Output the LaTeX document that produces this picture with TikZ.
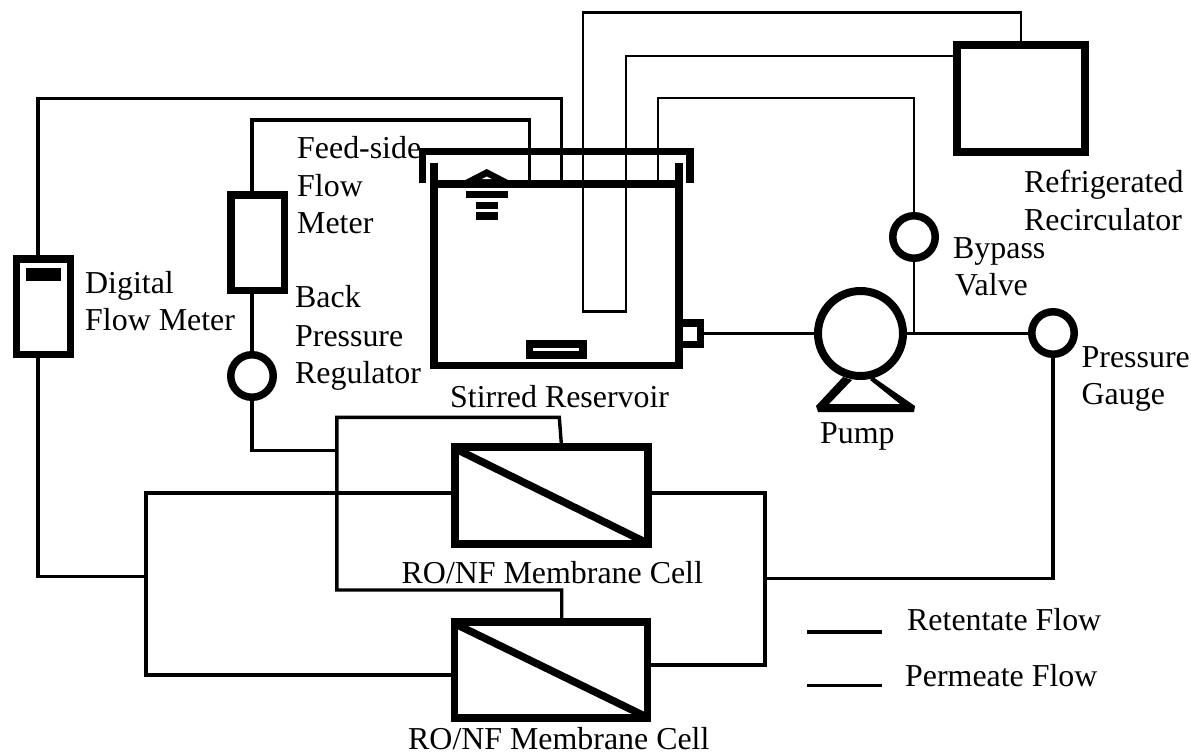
\documentclass[tikz,border=0pt]{standalone}
\usepackage{fontspec}
\usetikzlibrary{calc}
\setmainfont{Liberation Serif}
\begin{document}
\begin{tikzpicture}[x=1bp,y=-1bp,
  box/.style={draw=black,line width=7.5bp,fill=white,inner sep=0pt,outer sep=0pt,minimum width=#1},
  ring/.style={draw=black,line width=7.5bp,fill=white,circle,inner sep=0pt,outer sep=0pt,minimum size=#1},
  pipe/.style={line width=3.4bp,line join=miter},
  fine pipe/.style={line width=2bp,line join=miter},
  solid/.style={fill=black,draw=none},
  lab/.style={font=\fontsize{31.9bp}{37bp}\selectfont,anchor=base west,inner sep=0pt,text=black}]
\useasboundingbox (0,0) rectangle (1191,753);
% tank
\draw[line width=7.6bp,line join=miter] (433.7,162.7) -- (433.7,365.5) -- (679,365.5) -- (679,162.7);
\draw[line width=7.6bp] (430,184) -- (682,184);
\draw[line width=7.2bp,line join=miter] (422.8,183.3) -- (422.8,151.7) -- (690,151.7) -- (690,183.3);
% component nodes
\node[box=53.5bp,minimum height=95.5bp] (fm) at (257.5,242.5) {};
\node[box=53.5bp,minimum height=95.5bp] (dfm) at (43.5,306.5) {};
\node[ring=42.5bp] (bpr) at (252,376) {};
\node[ring=42.5bp] (bv) at (914,237) {};
\node[ring=42.5bp] (pg) at (1053,333) {};
\node[ring=85bp,line width=8bp] (pump) at (860.5,333.5) {};
\node[box=128bp,minimum height=107bp] (rr) at (1021,98.5) {};
\node[box=193bp,minimum height=97bp] (c1) at (551.5,495.5) {};
\node[box=193bp,minimum height=96bp] (c2) at (551,670) {};
\node[draw=black,line width=7.5bp,fill=white,inner sep=0pt,outer sep=0pt,minimum width=21bp,minimum height=21.5bp] (port) at (690,333.7) {};
% junction coordinates
\coordinate (a) at (38,98.5);
\coordinate (b) at (561.4,184);
\coordinate (d) at (252,120);
\coordinate (e) at (529.3,184);
\coordinate (j1) at (336.8,450.5);
\coordinate (j2) at (336.8,417.3);
\coordinate (j3) at (336.8,590);
\coordinate (j4) at (146,576.5);
\coordinate (j7) at (146,493);
\coordinate (j8) at (146,675);
\coordinate (j9) at (765,493);
\coordinate (j10) at (765,665);
\coordinate (j5) at (765,578.5);
\coordinate (j6) at (914,333.5);
\coordinate (m1) at (559.3,417.3);
\coordinate (m2) at (561.3,443.5);
\coordinate (m3) at (561.7,590);
\coordinate (u1) at (583,311.7);
\coordinate (u2) at (625.7,311.7);
\coordinate (u3) at (583,12.7);
\coordinate (u4) at (625.7,55.7);
\coordinate (g) at (1021,12.7);
\coordinate (h) at (914,98.3);
\coordinate (k) at (657.7,184);
% connectors
\draw[pipe] (a |- dfm.north) -- (a) -- (a -| b) -- (b);
\draw[pipe] (a |- dfm.south) -- (a |- j4) -- (j4);
\draw[pipe] (d |- fm.north) -- (d) -- (d -| e) -- (e);
\draw[pipe] (d |- fm.south) -- (bpr.north);
\draw[pipe] (bpr.south) -- (bpr.south |- j1) -- (j1);
\draw[pipe] (m2) -- (m1) -- (j2) -- (j3) -- (m3) -- (m3 |- c2.north);
\draw[pipe] (j7 -| c1.west) -- (j7) -- (j8) -- (j8 -| c2.west);
\draw[pipe] (j9 -| c1.east) -- (j9) -- (j10) -- (j10 -| c2.east);
\draw[pipe] (j5) -- (j5 -| pg.south) -- (pg.south);
\draw[pipe] (port.east |- pump.west) -- (pump.west);
\draw[pipe] (pump.east) -- (pg.west |- pump.east);
\draw[fine pipe] (j6) -- (bv.south);
\draw[fine pipe] (bv.north) -- (h) -- (h -| k) -- (k);
\draw[line width=2.5bp,line join=miter] (u1) -- (u3) -- (g) -- (rr.north);
\draw[fine pipe] (u2) -- (u4) -- (u4 -| rr.west);
\draw[line width=3bp] (581.8,311.7) -- (626.7,311.7);
% membrane diagonals
\draw[line width=7.5bp] ($(c1.north west)+(3,3)$) -- ($(c1.south east)+(-3,-2)$);
\draw[line width=7.5bp] ($(c2.north west)+(3,3)$) -- ($(c2.south east)+(-3,-2)$);
% digital meter display
\fill[solid] (26,268) rectangle (60.7,281);
% level symbol
\fill[solid] (464.5,180.5) -- (486.7,169) -- (509,180.5) -- cycle;
\fill[white] (482,179) -- (486.7,176.5) -- (491.5,179) -- cycle;
\fill[solid] (465.7,190.7) rectangle (508.3,198.3);
\fill[solid] (476,201.7) rectangle (497.7,209.3);
\fill[solid] (476,211.7) rectangle (497.7,220);
% stirrer
\fill[solid] (525.7,340.3) rectangle (587,358.7);
\fill[white] (533.3,347.7) rectangle (579,351);
% pump base
\fill[solid] (843,377) -- (816,406) -- (818,412) -- (914,412) -- (915,406) -- (873,377) -- (870,380) -- (900,404) -- (829,404) -- (852,380) -- cycle;
% legend
\coordinate (l1a) at (807,632); \coordinate (l1b) at (882,632);
\coordinate (l2a) at (807,685.7); \coordinate (l2b) at (882,685.7);
\draw[pipe] (l1a) -- (l1b);
\draw[pipe] (l2a) -- (l2b);
% labels
\node[lab] (t1a) at (297,158) {Feed-side};
\node[lab] (t1b) at (297,196) {Flow};
\node[lab] (t1c) at (297,233.3) {Meter};
\node[lab] (t2a) at (85,293) {Digital};
\node[lab] (t2b) at (85,330.7) {Flow Meter};
\node[lab] (t3a) at (295,307) {Back};
\node[lab] (t3b) at (295,346) {Pressure};
\node[lab] (t3c) at (295,383) {Regulator};
\node[lab] (t4) at (450,407) {Stirred Reservoir};
\node[lab] (t5) at (820,443.3) {Pump};
\node[lab] (t6a) at (953,258) {Bypass};
\node[lab] (t6b) at (955,295) {Valve};
\node[lab] (t7) at (1081.5,367.7) {Pressure};
\node[lab] (t8) at (1081.5,404) {Gauge};
\node[lab] (t9a) at (1024,192.7) {Refrigerated};
\node[lab] (t9b) at (1024,230.7) {Recirculator};
\node[lab] (t10) at (401.5,583) {RO/NF Membrane Cell};
\node[lab] (t11) at (408,749.8) {RO/NF Membrane Cell};
\node[lab] (t12) at (907,630.7) {Retentate Flow};
\node[lab] (t13) at (905,686) {Permeate Flow};
\end{tikzpicture}
\end{document}
